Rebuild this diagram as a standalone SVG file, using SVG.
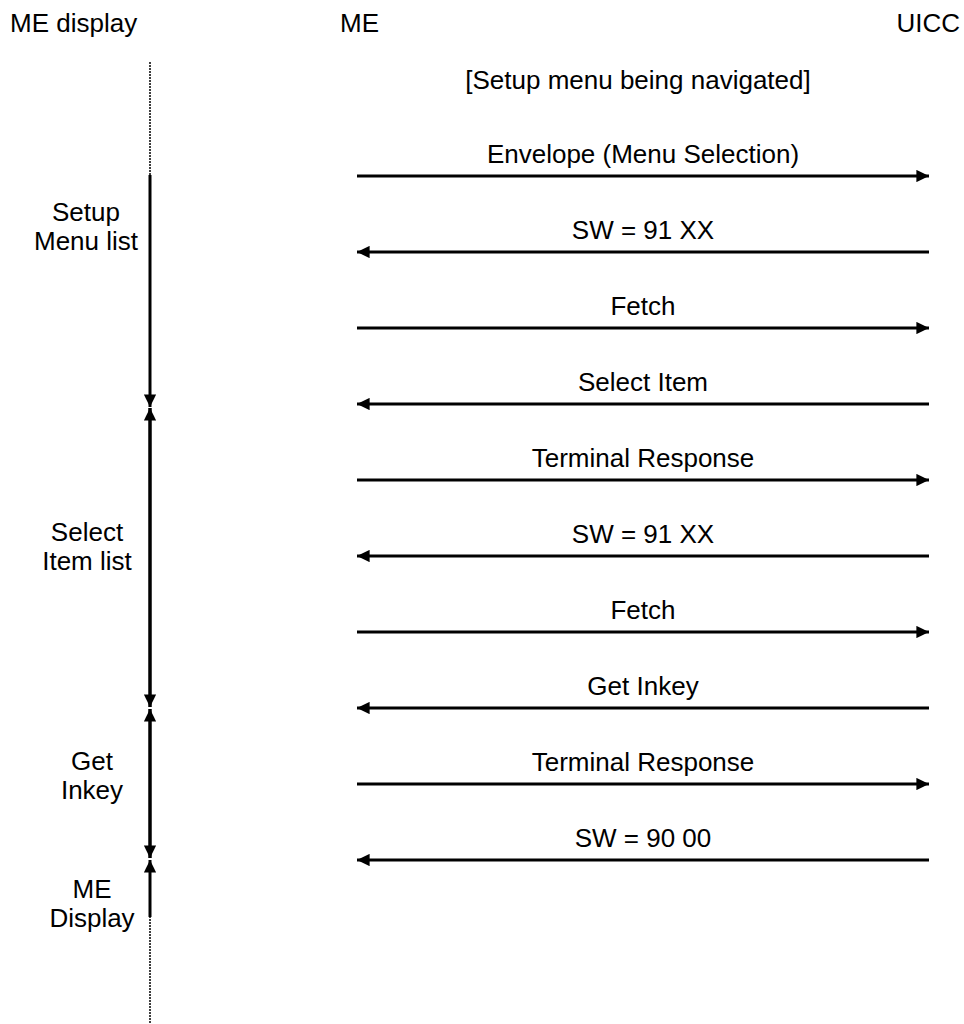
<svg xmlns="http://www.w3.org/2000/svg" width="964" height="1024" viewBox="0 0 964 1024">
<style>
text{font-family:"Liberation Sans",Arial,sans-serif;font-size:26px;fill:#000}
.c{text-anchor:middle}
.msg{stroke:#000;stroke-width:3;fill:none}
.life{stroke:#000;stroke-width:3;fill:none}
.dot{stroke:#000;stroke-width:1.5;stroke-dasharray:2 1;fill:none}
</style>
<defs>
<marker id="ah" viewBox="0 0 10 10" refX="10" refY="5" markerWidth="4.2" markerHeight="4.1" orient="auto" markerUnits="strokeWidth" preserveAspectRatio="none">
<path d="M0,0 L10,5 L0,10 z" fill="#000"/>
</marker>
</defs>
<g id="headers">
<text x="10" y="32">ME display</text>
<text x="340" y="32">ME</text>
<text x="960" y="32" text-anchor="end">UICC</text>
<text class="c" x="638" y="89">[Setup menu being navigated]</text>
</g>
<g id="timeline">
<line class="dot" x1="150" y1="62" x2="150" y2="175"/>
<line class="dot" x1="150" y1="916" x2="150" y2="1023"/>
</g>
<g id="state-setup-menu">
<line class="life" x1="150" y1="175" x2="150" y2="407" marker-end="url(#ah)"/>
<text class="c" x="86" y="221">Setup</text>
<text class="c" x="86" y="250">Menu list</text>
</g>
<g id="state-select-item">
<line class="life" x1="150" y1="707" x2="150" y2="408" marker-end="url(#ah)"/>
<line class="life" x1="150" y1="408" x2="150" y2="707" marker-end="url(#ah)"/>
<text class="c" x="87" y="541">Select</text>
<text class="c" x="87" y="570">Item list</text>
</g>
<g id="state-get-inkey">
<line class="life" x1="150" y1="858" x2="150" y2="709" marker-end="url(#ah)"/>
<line class="life" x1="150" y1="709" x2="150" y2="858" marker-end="url(#ah)"/>
<text class="c" x="92" y="770">Get</text>
<text class="c" x="92" y="799">Inkey</text>
</g>
<g id="state-me-display">
<line class="life" x1="150" y1="917" x2="150" y2="860" marker-end="url(#ah)"/>
<text class="c" x="92" y="898">ME</text>
<text class="c" x="92" y="927">Display</text>
</g>
<g id="connectors">
<line class="msg" x1="357" y1="176" x2="929" y2="176" marker-end="url(#ah)"/>
<text class="c" x="643" y="163">Envelope (Menu Selection)</text>
<line class="msg" x1="929" y1="252" x2="357" y2="252" marker-end="url(#ah)"/>
<text class="c" x="643" y="239">SW = 91 XX</text>
<line class="msg" x1="357" y1="328" x2="929" y2="328" marker-end="url(#ah)"/>
<text class="c" x="643" y="315">Fetch</text>
<line class="msg" x1="929" y1="404" x2="357" y2="404" marker-end="url(#ah)"/>
<text class="c" x="643" y="391">Select Item</text>
<line class="msg" x1="357" y1="480" x2="929" y2="480" marker-end="url(#ah)"/>
<text class="c" x="643" y="467">Terminal Response</text>
<line class="msg" x1="929" y1="556" x2="357" y2="556" marker-end="url(#ah)"/>
<text class="c" x="643" y="543">SW = 91 XX</text>
<line class="msg" x1="357" y1="632" x2="929" y2="632" marker-end="url(#ah)"/>
<text class="c" x="643" y="619">Fetch</text>
<line class="msg" x1="929" y1="708" x2="357" y2="708" marker-end="url(#ah)"/>
<text class="c" x="643" y="695">Get Inkey</text>
<line class="msg" x1="357" y1="784" x2="929" y2="784" marker-end="url(#ah)"/>
<text class="c" x="643" y="771">Terminal Response</text>
<line class="msg" x1="929" y1="860" x2="357" y2="860" marker-end="url(#ah)"/>
<text class="c" x="643" y="847">SW = 90 00</text>
</g>
</svg>
